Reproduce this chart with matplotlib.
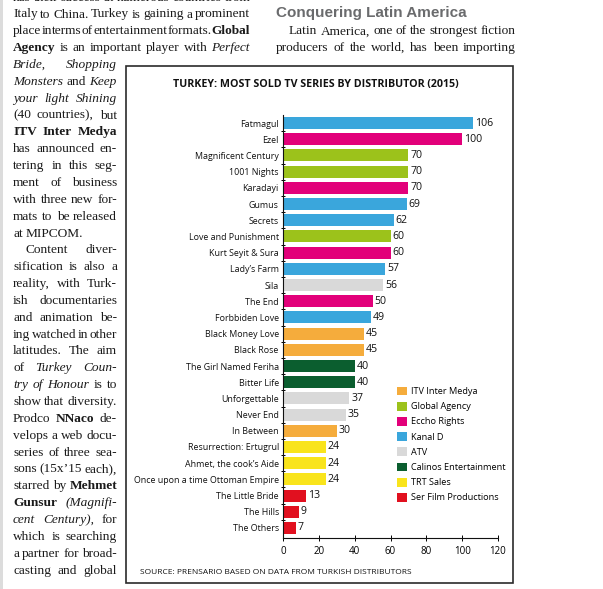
"""
Magazine page: Turkey most sold TV series by distributor (2015)
"""
import matplotlib
matplotlib.use("Agg")
import matplotlib.pyplot as plt
from matplotlib.patches import Patch, Rectangle

W, H = 603, 589

titles = ["Fatmagul", "Ezel", "Magnificent Century", "1001 Nights", "Karadayi",
          "Gumus", "Secrets", "Love and Punishment", "Kurt Seyit & Sura",
          "Lady\u2019s Farm", "Sila", "The End", "Forbbiden Love",
          "Black Money Love", "Black Rose", "The Girl Named Feriha",
          "Bitter Life", "Unforgettable", "Never End", "In Between",
          "Resurrection: Ertugrul", "Ahmet, the cook\u2019s Aide",
          "Once upon a time Ottoman Empire", "The Little Bride", "The Hills",
          "The Others"]
countries = [106, 100, 70, 70, 70, 69, 62, 60, 60, 57, 56, 50, 49, 45, 45,
             40, 40, 37, 35, 30, 24, 24, 24, 13, 9, 7]
distributor = ["Kanal D", "Eccho Rights", "Global Agency", "Global Agency",
               "Eccho Rights", "Kanal D", "Kanal D", "Global Agency",
               "Eccho Rights", "Kanal D", "ATV", "Eccho Rights", "Kanal D",
               "ITV Inter Medya", "ITV Inter Medya", "Calinos Entertainment",
               "Calinos Entertainment", "ATV", "ATV", "ITV Inter Medya",
               "TRT Sales", "TRT Sales", "TRT Sales", "Ser Film Productions",
               "Ser Film Productions", "Ser Film Productions"]
legend_names = ["ITV Inter Medya", "Global Agency", "Eccho Rights", "Kanal D",
                "ATV", "Calinos Entertainment", "TRT Sales",
                "Ser Film Productions"]
palette = {"ITV Inter Medya": "#f5ac3c", "Global Agency": "#9cc21b",
           "Eccho Rights": "#e2007a", "Kanal D": "#3aa6dc", "ATV": "#d9d9d9",
           "Calinos Entertainment": "#0b5e2f", "TRT Sales": "#f9e41c",
           "Ser Film Productions": "#e1101f"}

# article text, '^' = bold word, '~' = italic word
top_lines = [
    "has their success in numerous countries from",
    "Italy to China. Turkey is gaining a prominent",
    "place in terms of entertainment formats. ^Global",
    "^Agency is an important player with ~Perfect",
]
left_lines = [
    "~Bride, ~Shopping", "~Monsters and ~Keep", "~your ~light ~Shining",
    "(40 countries), but", "^ITV ^Inter ^Medya", "has announced en-",
    "tering in this seg-", "ment of business", "with three new for-",
    "mats to be released", "at MIPCOM.", "Content diver-",
    "sification is also a", "reality, with Turk-", "ish documentaries",
    "and animation be-", "ing watched in other", "latitudes. The aim",
    "of ~Turkey ~Coun-", "~try ~of ~Honour is to", "show that diversity.",
    "Prodco ^NNaco de-", "velops a web docu-", "series of three sea-",
    "sons (15x\u201915 each),", "starred by ^Mehmet", "^Gunsur ~(Magnifi-",
    "~cent ~Century), for", "which is searching", "a partner for broad-",
    "casting and global",
]
right_heading = "Conquering Latin America"
right_lines = [
    "Latin America, one of the strongest fiction",
    "producers of the world, has been importing",
]

fig = plt.figure(figsize=(W / 100, H / 100), dpi=100)
fig.patch.set_facecolor("white")
renderer = fig.canvas.get_renderer()


def fx(x):
    return x / W


def fy(y):
    return 1 - y / H


def put_line(line, x0, x1, y, justify=True, size=9.6):
    objs = []
    for word in line.split(" "):
        weight, style = "normal", "normal"
        if word.startswith("^"):
            weight, word = "bold", word[1:]
        elif word.startswith("~"):
            style, word = "italic", word[1:]
        t = fig.text(fx(x0), fy(y), word, fontsize=size, family="Liberation Serif",
                     fontweight=weight, fontstyle=style, color="#1a1a1a",
                     va="baseline", ha="left")
        objs.append(t)
    widths = [t.get_window_extent(renderer).width for t in objs]
    if justify and len(objs) > 1:
        gap = (x1 - x0 - sum(widths)) / (len(objs) - 1)
    else:
        gap = size * 0.35
    x = x0
    for t, w in zip(objs, widths):
        t.set_position((fx(x), fy(y)))
        x += w + gap


step = 16.85
for i, line in enumerate(top_lines):
    put_line(line, 13, 250, 13.5 + step * (i - 1) + 4)
for i, line in enumerate(left_lines):
    yb = 13.5 + step * (i + 3) + 4
    last = line in ("at MIPCOM.",)
    x0 = 25 if line.startswith("Content") else 13
    put_line(line, x0, 117, yb, justify=not last)

fig.text(fx(276), fy(17), right_heading, fontsize=11.0, family="Liberation Sans",
         fontweight="bold", color="#6a6b6d", va="baseline")
put_line(right_lines[0], 289, 516, 13.5 + step + 4)
put_line(right_lines[1], 276, 516, 13.5 + 2 * step + 4)

# light strip at page edge
fig.add_artist(Rectangle((0, 0), fx(3), 1, transform=fig.transFigure,
                         facecolor="#dcdcdc", edgecolor="none"))

# chart frame
fig.add_artist(Rectangle((fx(126), fy(583)), fx(513) - fx(126), fy(66) - fy(583),
                         transform=fig.transFigure, fill=False,
                         edgecolor="#2b2b2b", linewidth=1.2))

fig.text(fx(316), fy(84), "TURKEY: MOST SOLD TV SERIES BY DISTRIBUTOR (2015)",
         fontsize=7.7, family="Open Sans", fontweight="bold", color="#111111",
         ha="center", va="center")
fig.text(fx(140), fy(572), "SOURCE: PRENSARIO BASED ON DATA FROM TURKISH DISTRIBUTORS",
         fontsize=6.0, family="Open Sans", color="#111111", ha="left", va="center")

ax = fig.add_axes([fx(283), fy(538), fx(498) - fx(283), fy(115) - fy(538)])
pos = list(range(len(titles)))
ax.barh(pos, countries, height=0.74, color=[palette[d] for d in distributor])
for p, v in zip(pos, countries):
    ax.text(v + 1, p, str(v), va="center", ha="left", fontsize=7.6,
            family="Open Sans", color="#111111")
ax.set_xlim(0, 120)
ax.set_ylim(len(titles) - 0.38, -0.5)
ax.set_yticks(pos)
ax.set_yticklabels(titles, fontsize=6.4, family="Open Sans", color="#111111")
ax.set_yticks([p + 0.5 for p in pos[:-1]], minor=True)
ax.tick_params(axis="y", which="major", length=0, pad=3)
ax.tick_params(axis="y", which="minor", length=3, width=0.7, direction="inout")
ax.set_xticks(range(0, 121, 20))
ax.tick_params(axis="x", length=4, width=0.7, direction="inout",
               labelsize=7, pad=4)
for lab in ax.get_xticklabels():
    lab.set_family("Open Sans")
for s in ("top", "right"):
    ax.spines[s].set_visible(False)
for s in ("left", "bottom"):
    ax.spines[s].set_linewidth(0.8)
    ax.spines[s].set_color("#111111")
ax.set_facecolor("none")

handles = [Patch(facecolor=palette[n], edgecolor="none") for n in legend_names]
fig.legend(handles, legend_names, loc="upper left",
           bbox_to_anchor=(fx(392), fy(382)), frameon=False, borderpad=0,
           handlelength=1.1, handleheight=1.1, handletextpad=0.45,
           labelspacing=0.62, prop={"family": "Open Sans", "size": 6.6})

fig.savefig("out.png", dpi=100)
